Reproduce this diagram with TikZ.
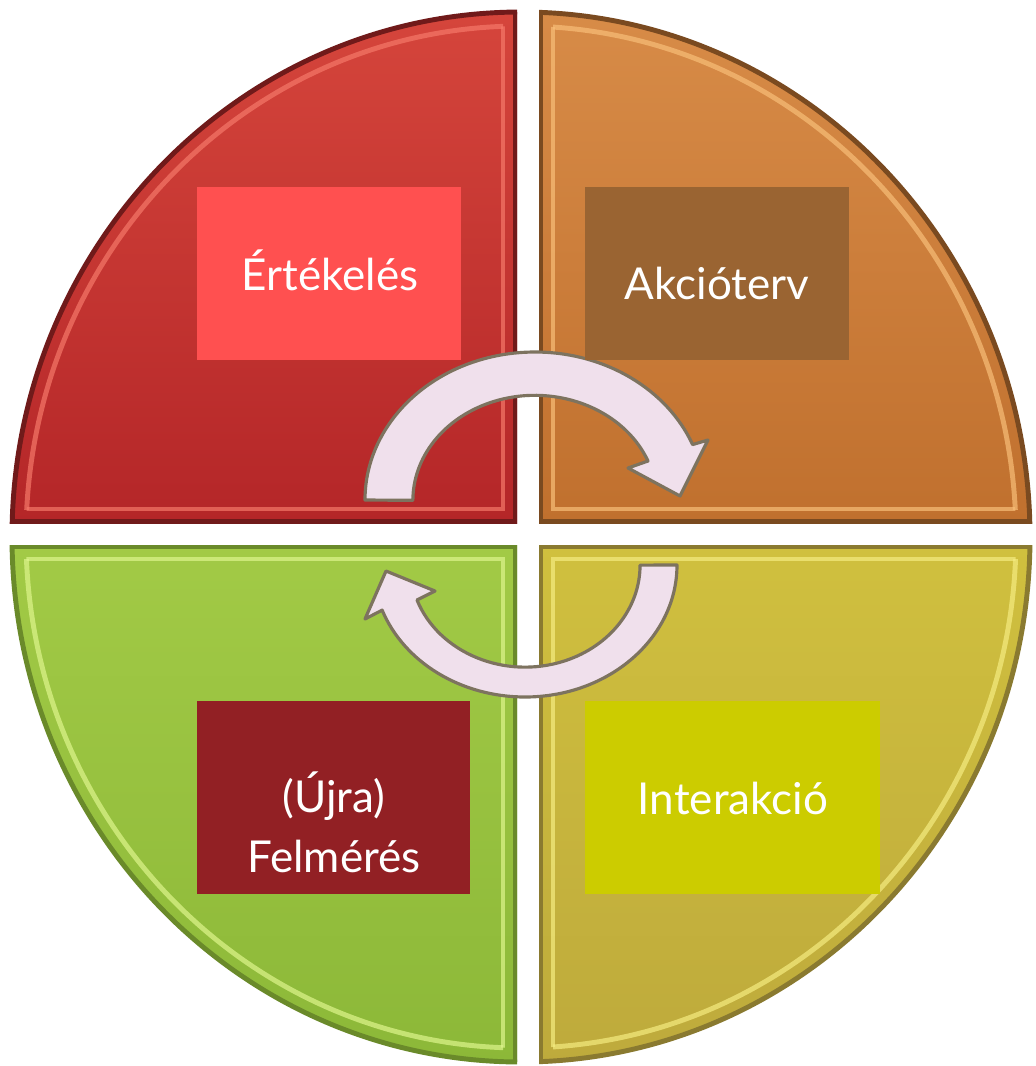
\documentclass[tikz,border=0pt]{standalone}
\usepackage{fontspec}
\setmainfont{Lato}

\tikzset{
  box/.style={rectangle, inner sep=0pt},
  lbl/.style={text=white, font=\fontsize{12.5pt}{17pt}\selectfont, inner sep=0pt},
  loop/.style={fill=loopfill, draw=loopedge, line width=0.9pt, line join=round},
}

% one quarter of the disc: rect, inset rect, top/bottom colours, edge colour, light colour
\newcommand{\quarter}[8]{%
  \begin{scope}
    \clip #1 rectangle #2;
    \begin{scope}
      \clip (521,537) ellipse [x radius=509, y radius=525];
      \fill[top color=#5, bottom color=#6] #1 rectangle #2;
      \draw[#7, line width=2.4pt] #1 rectangle #2;
      \begin{scope}
        \clip #3 rectangle #4;
        \draw[#8, line width=1.4pt, opacity=.7] (521,537) ellipse [x radius=495, y radius=511];
      \end{scope}
      \begin{scope}
        \clip (521,537) ellipse [x radius=495, y radius=511];
        \draw[#8, line width=1.4pt, opacity=.7] #3 rectangle #4;
      \end{scope}
    \end{scope}
    \draw[#7, line width=1.4pt] (521,537) ellipse [x radius=509, y radius=525];
  \end{scope}}

\begin{document}
\begin{tikzpicture}[x=0.01cm, y=-0.01cm]
    \definecolor{evalred}{RGB}{255, 80, 80}
    \definecolor{planbrown}{RGB}{154, 100, 50}
    \definecolor{surveyred}{RGB}{146, 32, 36}
    \definecolor{actyellow}{RGB}{204, 204, 0}
    \definecolor{loopfill}{RGB}{240, 224, 236}
    \definecolor{loopedge}{RGB}{125, 115, 95}
    \definecolor{redtop}{RGB}{214, 70, 60}
    \definecolor{redbot}{RGB}{180, 38, 40}
    \definecolor{rededge}{RGB}{112, 26, 26}
    \definecolor{redlight}{RGB}{245, 120, 105}
    \definecolor{orangetop}{RGB}{216, 140, 72}
    \definecolor{orangebot}{RGB}{192, 112, 46}
    \definecolor{orangeedge}{RGB}{122, 74, 32}
    \definecolor{orangelight}{RGB}{248, 190, 120}
    \definecolor{greentop}{RGB}{162, 202, 70}
    \definecolor{greenbot}{RGB}{140, 184, 56}
    \definecolor{greenedge}{RGB}{106, 138, 42}
    \definecolor{greenlight}{RGB}{222, 245, 140}
    \definecolor{olivetop}{RGB}{208, 192, 62}
    \definecolor{olivebot}{RGB}{190, 170, 60}
    \definecolor{oliveedge}{RGB}{138, 122, 48}
    \definecolor{olivelight}{RGB}{245, 236, 128}

    \useasboundingbox (0,0) rectangle (1035,1066);
    \fill[white] (0,0) rectangle (1035,1066);

    % the four quarters
    \quarter{(0,0)}{(517,523)}{(0,0)}{(503,509)}{redtop}{redbot}{rededge}{redlight}
    \quarter{(539,0)}{(1035,523)}{(553,0)}{(1035,509)}{orangetop}{orangebot}{orangeedge}{orangelight}
    \quarter{(0,545)}{(517,1066)}{(0,559)}{(503,1066)}{greentop}{greenbot}{greenedge}{greenlight}
    \quarter{(539,545)}{(1035,1066)}{(553,559)}{(1035,1066)}{olivetop}{olivebot}{oliveedge}{olivelight}

    % the two turning arrows
    \draw[loop] (365,500) arc[start angle=180, end angle=338, x radius=170, y radius=148]
        -- (708,440) -- (680,496) -- (628,468) -- (648,461)
        arc[start angle=338, end angle=180, x radius=122, y radius=105] -- cycle;
    \draw[loop] (677,565) arc[start angle=0, end angle=160, x radius=152, y radius=132]
        -- (365,619) -- (386,571) -- (435,591) -- (417,600)
        arc[start angle=160, end angle=0, x radius=115, y radius=102] -- cycle;

    % boxes
    \node[box, fill=evalred, minimum width=2.64cm, minimum height=1.73cm] (eval) at (329,273.5) {};
    \node[box, fill=planbrown, minimum width=2.64cm, minimum height=1.73cm] (plan) at (717,273.5) {};
    \node[box, fill=surveyred, minimum width=2.73cm, minimum height=1.93cm] (survey) at (333.5,797.5) {};
    \node[box, fill=actyellow, minimum width=2.95cm, minimum height=1.93cm] (act) at (732.5,797.5) {};

    \node[lbl, anchor=base] (evaltext) at (330,290) {Értékelés};
    \node[lbl, anchor=base] (plantext) at (717,299) {Akcióterv};
    \node[lbl, anchor=base] (surveytop) at (334,812) {(Újra)};
    \node[lbl, anchor=base] (surveytext) at (334,872) {Felmérés};
    \node[lbl, anchor=base] (acttext) at (733,814) {Interakció};
\end{tikzpicture}
\end{document}
